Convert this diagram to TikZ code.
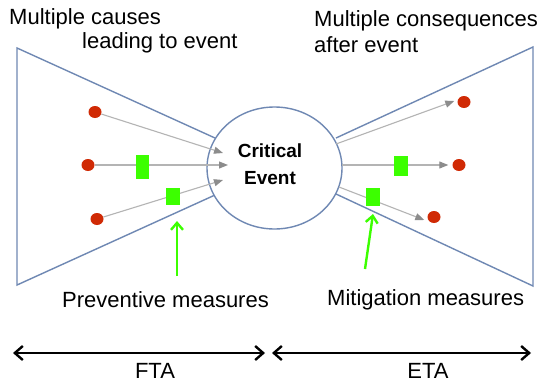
\documentclass[tikz,border=0pt]{standalone}
\usepackage{fontspec}
\setmainfont{Liberation Sans}
\usetikzlibrary{arrows.meta,shapes.geometric}
\definecolor{edgeblue}{HTML}{6F88B3}
\definecolor{dotred}{HTML}{D02A05}
\definecolor{mgreen}{HTML}{3CFF00}
\definecolor{arrgray}{HTML}{B4B4B4}
\definecolor{tipgray}{HTML}{8C8C8C}
\tikzset{
  outline/.style={draw=edgeblue, line width=1.4pt, line join=miter},
  reddot/.style={ellipse, fill=dotred, minimum width=13pt, minimum height=12pt, inner sep=0pt},
  greenbox/.style={rectangle, fill=mgreen, inner sep=0pt},
  flow/.style={draw=arrgray, line width=1.1pt, -{Triangle[length=9pt,width=7pt,color=tipgray]}},
  greenarrow/.style={draw=mgreen, line width=2.4pt, -{Straight Barb[length=7pt,width=12pt]}},
  spanarrow/.style={draw=black, line width=2.4pt, {Straight Barb[length=8pt,width=14pt]}-{Straight Barb[length=8pt,width=14pt]}},
  lbl/.style={font=\fontsize{22}{25}\selectfont, inner sep=0pt},
}
\begin{document}
\begin{tikzpicture}[x=1pt,y=-1pt]
\useasboundingbox (0,0) rectangle (541,383);
\fill[white] (0,0) rectangle (541,383);
% bow-tie outline
\draw[outline] (215,138) -- (17,48) -- (17,285) -- (215,195);
\draw[outline] (336,138) -- (533,47) -- (533,286) -- (336,194);
\node[ellipse, draw=edgeblue, line width=1.4pt, fill=white, minimum width=135pt, minimum height=122pt, inner sep=0pt] (ev) at (274.5,168) {};
\node[font=\bfseries\fontsize{19}{27}\selectfont, align=center, inner sep=0pt] (evtxt) at (270,164) {Critical\\Event};
% left causes
\node[reddot] (c1) at (95,112) {};
\node[reddot] (c2) at (88,165) {};
\node[reddot] (c3) at (97,219) {};
\coordinate (t1) at (223,153);
\coordinate (t2) at (228,165);
\coordinate (t3) at (223,180);
\draw[flow] (c1) -- (t1);
\draw[flow] (c2) -- (t2);
\draw[flow] (c3) -- (t3);
\node[greenbox, minimum width=13pt, minimum height=24pt] (g1) at (142,167) {};
\node[greenbox, minimum width=14pt, minimum height=17pt] (g2) at (173,196) {};
% right consequences
\coordinate (s1) at (336,144);
\coordinate (s2) at (342,165);
\coordinate (s3) at (339,187);
\node[reddot] (r1) at (464,102) {};
\node[reddot] (r2) at (459,165) {};
\node[reddot] (r3) at (434,217) {};
\draw[flow] (s1) -- ([xshift=-3pt,yshift=1pt]r1.west);
\draw[flow] (s2) -- ([xshift=-4pt]r2.west);
\draw[flow] (s3) -- ([xshift=-3pt,yshift=-3pt]r3.west);
\node[greenbox, minimum width=14pt, minimum height=20pt] (g3) at (401,166) {};
\node[greenbox, minimum width=14pt, minimum height=18pt] (g4) at (373,197) {};
% measure arrows
\coordinate (pa) at (177,276);
\coordinate (pt) at (177,221);
\coordinate (ma) at (365,269);
\coordinate (mt) at (373,214);
\draw[greenarrow] (pa) -- (pt);
\draw[greenarrow] (ma) -- (mt);
% labels
\node[lbl, anchor=west] (lc1) at (9,19) {Multiple causes};
\node[lbl, anchor=west] (lc2) at (82,43) {leading to event};
\node[lbl, anchor=west] (lq1) at (314,21) {Multiple consequences};
\node[lbl, anchor=west] (lq2) at (314,45) {after event};
\node[lbl, anchor=west] (lp) at (62,300) {Preventive measures};
\node[lbl, anchor=west] (lm) at (327,300) {Mitigation measures};
% span arrows
\coordinate (f1) at (13,353);
\coordinate (f2) at (265,353);
\coordinate (e1) at (272,353);
\coordinate (e2) at (531,353);
\draw[spanarrow] (f1) -- (f2);
\draw[spanarrow] (e1) -- (e2);
\node[lbl, anchor=base] (fta) at (155,378) {FTA};
\node[lbl, anchor=base] (eta) at (428,378) {ETA};
\end{tikzpicture}
\end{document}
